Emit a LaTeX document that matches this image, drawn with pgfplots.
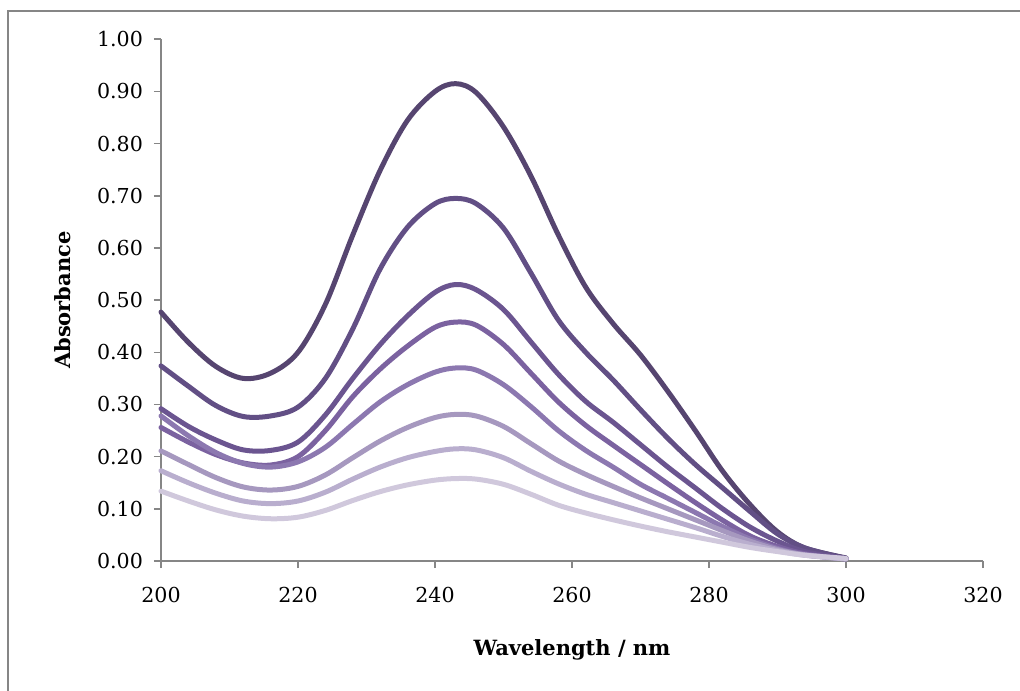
\documentclass[border=0pt]{standalone}
\usepackage{pgfplots}
\usepackage{pgfplotstable}
\usepackage{fontspec}
\setmainfont{DejaVu Serif}
\pgfplotsset{compat=1.18}
\definecolor{cA}{HTML}{564570}
\definecolor{cB}{HTML}{624F85}
\definecolor{cC}{HTML}{6B5590}
\definecolor{cD}{HTML}{7B62A0}
\definecolor{cE}{HTML}{8C78B0}
\definecolor{cF}{HTML}{A698BF}
\definecolor{cG}{HTML}{B9AECE}
\definecolor{cH}{HTML}{D0C8DC}
\definecolor{axgrey}{HTML}{868686}
\pgfplotstableread{
x c1 c2 c3 c4 c5 c6 c7 c8
200 0.477 0.374 0.292 0.256 0.278 0.211 0.173 0.134
204 0.419 0.335 0.258 0.228 0.240 0.185 0.150 0.115
208 0.373 0.298 0.232 0.204 0.208 0.160 0.130 0.098
212 0.350 0.277 0.213 0.188 0.187 0.142 0.115 0.086
216 0.360 0.278 0.212 0.184 0.180 0.136 0.110 0.081
220 0.400 0.295 0.228 0.200 0.190 0.143 0.115 0.084
224 0.492 0.350 0.280 0.250 0.218 0.165 0.132 0.097
228 0.625 0.445 0.350 0.315 0.262 0.198 0.157 0.116
232 0.749 0.560 0.415 0.368 0.305 0.230 0.180 0.133
236 0.845 0.640 0.470 0.412 0.338 0.256 0.198 0.146
240 0.900 0.685 0.515 0.448 0.362 0.275 0.210 0.155
243 0.915 0.695 0.530 0.458 0.370 0.281 0.215 0.158
246 0.898 0.685 0.520 0.452 0.366 0.278 0.213 0.157
250 0.832 0.638 0.482 0.415 0.338 0.258 0.198 0.147
254 0.738 0.552 0.420 0.360 0.296 0.225 0.172 0.128
258 0.625 0.462 0.358 0.305 0.250 0.192 0.148 0.107
262 0.525 0.400 0.306 0.260 0.212 0.166 0.128 0.092
266 0.455 0.347 0.266 0.222 0.180 0.143 0.112 0.079
270 0.395 0.290 0.223 0.185 0.147 0.121 0.096 0.067
274 0.325 0.235 0.180 0.148 0.120 0.100 0.080 0.056
278 0.250 0.185 0.140 0.112 0.093 0.079 0.064 0.046
282 0.172 0.140 0.100 0.078 0.066 0.058 0.047 0.036
286 0.108 0.095 0.065 0.048 0.042 0.038 0.032 0.026
290 0.056 0.052 0.038 0.028 0.024 0.022 0.020 0.018
294 0.025 0.025 0.018 0.014 0.012 0.012 0.011 0.011
300 0.006 0.005 0.005 0.004 0.004 0.004 0.004 0.005
}\spectra
\begin{document}
\begin{tikzpicture}
\useasboundingbox (-80.5pt,-64.5pt) rectangle (429.5pt,280.5pt);
\draw[axgrey, line width=1pt] (-76.5pt,-70pt) -- (-76.5pt,275pt) -- (440pt,275pt);
\begin{axis}[
  at={(0,0)}, anchor=south west,
  scale only axis, width=411pt, height=260.85pt,
  xmin=200, xmax=320, ymin=0, ymax=1,
  xtick={200,220,...,320},
  ytick={0,0.1,...,1.0},
  axis x line*=bottom, axis y line*=left,
  axis line style={axgrey, line width=1pt},
  tick align=outside, major tick length=3.5pt,
  tick style={axgrey, line width=0.8pt},
  minor tick num=0,
  /pgf/number format/assume math mode=true,
  ticklabel style={font=\fontsize{10.3}{12}\selectfont, text=black},
  yticklabel style={xshift=-2pt, /pgf/number format/fixed, /pgf/number format/fixed zerofill, /pgf/number format/precision=2},
  xticklabel style={yshift=-6pt, /pgf/number format/fixed, /pgf/number format/precision=0, /pgf/number format/1000 sep={}},
  xlabel={\textbf{Wavelength / nm}},
  ylabel={\textbf{Absorbance}},
  label style={font=\fontsize{10.5}{12}\selectfont},
  xlabel style={at={(axis description cs:0.5,-0.171)}, anchor=center},
  ylabel style={at={(axis description cs:-0.12,0.5)}, anchor=center},
  clip=false,
  every axis plot/.append style={line width=2.5pt, smooth, tension=0.55, line cap=round, line join=round},
]
\addplot[cA] table[x=x, y=c1] {\spectra};
\addplot[cB] table[x=x, y=c2] {\spectra};
\addplot[cC] table[x=x, y=c3] {\spectra};
\addplot[cD] table[x=x, y=c4] {\spectra};
\addplot[cE] table[x=x, y=c5] {\spectra};
\addplot[cF] table[x=x, y=c6] {\spectra};
\addplot[cG] table[x=x, y=c7] {\spectra};
\addplot[cH] table[x=x, y=c8] {\spectra};
\end{axis}
\end{tikzpicture}
\end{document}
